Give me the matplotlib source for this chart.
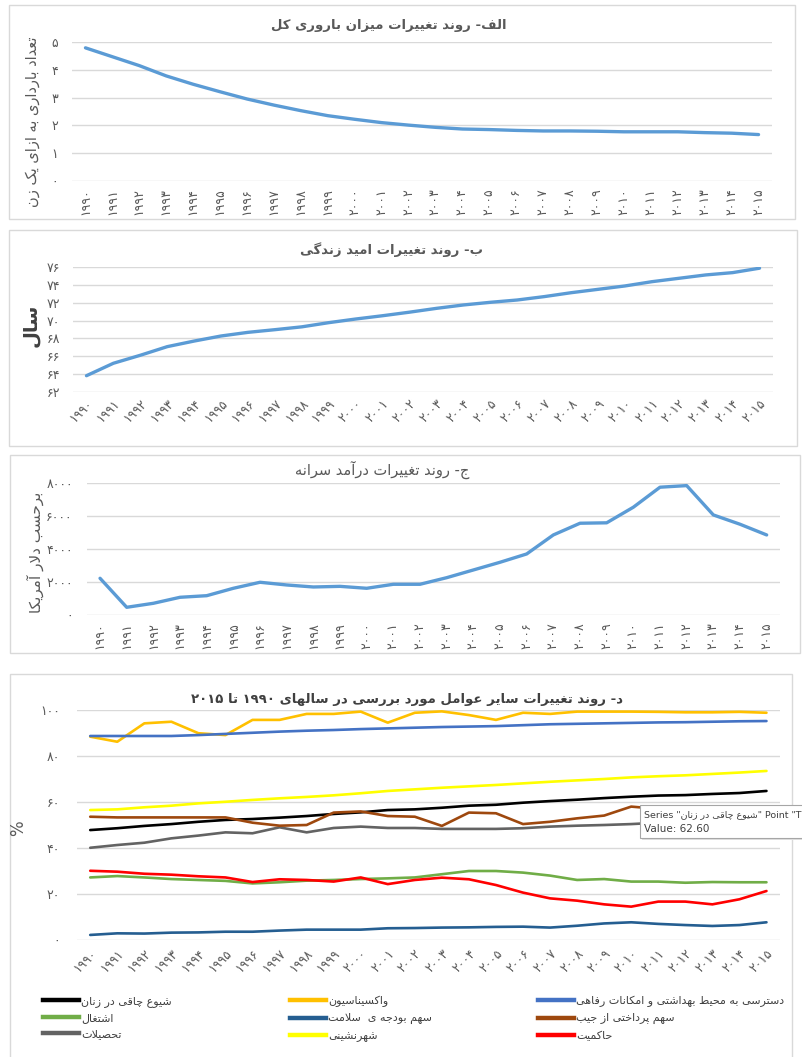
import re

import matplotlib
import numpy as np

matplotlib.use("Agg")
import matplotlib.pyplot as plt  # noqa: E402
from matplotlib.lines import Line2D  # noqa: E402
from matplotlib.patches import Rectangle  # noqa: E402

plt.rcParams["font.family"] = ["DejaVu Sans"]

W, H = 803, 1057

YEARS = list(range(1990, 2016))

# panel A: total fertility rate
fertility = [4.79, 4.47, 4.15, 3.78, 3.48, 3.21, 2.95, 2.73, 2.53, 2.35, 2.22,
             2.10, 2.01, 1.93, 1.87, 1.85, 1.82, 1.80, 1.80, 1.79, 1.77, 1.77,
             1.77, 1.74, 1.72, 1.67]

# panel B: life expectancy
life_exp = [63.8, 65.2, 66.1, 67.07, 67.7, 68.27, 68.68, 68.98, 69.3, 69.77,
            70.18, 70.55, 70.95, 71.38, 71.76, 72.06, 72.32, 72.7, 73.14,
            73.52, 73.9, 74.38, 74.76, 75.14, 75.4, 75.9]

# panel C: GDP per capita (USD)
income = [2231, 468, 711, 1076, 1173, 1623, 1988, 1824, 1702, 1740, 1623,
          1866, 1866, 2267, 2735, 3203, 3708, 4863, 5574, 5600, 6547, 7763,
          7860, 6079, 5513, 4863]

# panel D: other factors (%)
obesity = [47.8, 48.6, 49.6, 50.4, 51.4, 52.2, 52.6, 53.2, 53.9, 54.8, 55.5,
           56.5, 56.8, 57.5, 58.4, 58.8, 59.7, 60.4, 61.0, 61.7, 62.3, 62.8,
           63.0, 63.5, 63.9, 64.8]
vaccination = [88.4, 86.2, 94.2, 94.9, 89.9, 89.1, 95.7, 95.7, 98.3, 98.3, 99.3,
               94.5, 98.8, 99.4, 97.8, 95.7, 98.8, 98.3, 99.3, 99.3, 99.3, 99.2,
               99.0, 99.0, 99.2, 98.8]
sanitation = [88.7, 88.7, 88.7, 88.7, 89.1, 89.6, 90.1, 90.6, 91.0, 91.3, 91.7,
              92.0, 92.3, 92.6, 92.8, 93.0, 93.4, 93.8, 94.0, 94.2, 94.4, 94.6,
              94.7, 94.9, 95.1, 95.2]
employment = [27.2, 27.8, 27.2, 26.5, 26.1, 25.7, 24.6, 25.1, 25.8, 26.1, 26.5,
              26.8, 27.2, 28.6, 30.0, 30.0, 29.3, 28.0, 26.1, 26.5, 25.4, 25.4,
              24.9, 25.2, 25.1, 25.1]
health_budget = [2.2, 2.9, 2.8, 3.2, 3.3, 3.6, 3.6, 4.1, 4.5, 4.5, 4.5, 5.1,
                 5.2, 5.4, 5.5, 5.7, 5.8, 5.4, 6.2, 7.2, 7.7, 7.0, 6.5, 6.1,
                 6.5, 7.7]
out_of_pocket = [53.6, 53.3, 53.3, 53.3, 53.3, 53.3, 51.0, 49.7, 50.0, 55.4,
                 55.9, 53.9, 53.6, 49.6, 55.4, 55.1, 50.4, 51.4, 52.9, 54.1,
                 58.0, 57.0, 56.0, 56.5, 57.0, 57.5]
education = [40.1, 41.3, 42.3, 44.2, 45.4, 46.8, 46.4, 49.0, 46.8, 48.7, 49.3,
             48.7, 48.7, 48.3, 48.3, 48.3, 48.6, 49.3, 49.7, 50.0, 50.4, 51.0,
             51.5, 52.0, 52.0, 52.5]
urbanization = [56.5, 56.8, 57.7, 58.4, 59.4, 60.1, 60.9, 61.6, 62.2, 62.9, 63.8,
                64.8, 65.5, 66.2, 66.8, 67.4, 68.1, 68.8, 69.4, 70.0, 70.7, 71.2,
                71.6, 72.2, 72.8, 73.5]
governance = [30.1, 29.7, 28.8, 28.4, 27.7, 27.2, 25.2, 26.4, 26.1, 25.4, 27.2,
              24.3, 26.1, 27.1, 26.4, 23.9, 20.6, 18.1, 17.1, 15.5, 14.5, 16.7,
              16.7, 15.5, 17.7, 21.3]

# legend columns, top to bottom
D_SERIES = [
    ("شیوع چاقی در زنان", obesity, "#000000"),
    ("اشتغال", employment, "#70AD47"),
    ("تحصیلات", education, "#636363"),
    ("واکسیناسیون", vaccination, "#FFC000"),
    ("سهم بودجه ی  سلامت", health_budget, "#255E91"),
    ("شهرنشینی", urbanization, "#FFFF00"),
    ("دسترسی به محیط بهداشتی و امکانات رفاهی", sanitation, "#4472C4"),
    ("سهم پرداختی از جیب", out_of_pocket, "#9E480E"),
    ("حاکمیت", governance, "#FF0000"),
]

# --- minimal Persian shaping (matplotlib has no text shaping) -------------
def _dual(b):
    return (b, b + 1, b + 2, b + 3)


def _right(b):
    return (b, b + 1, None, None)


FORMS = {
    "ا": _right(0xFE8D), "آ": _right(0xFE81), "د": _right(0xFEA9),
    "ذ": _right(0xFEAB), "ر": _right(0xFEAD), "ز": _right(0xFEAF),
    "ژ": _right(0xFB8A), "و": _right(0xFEED),
    "ب": _dual(0xFE8F), "پ": _dual(0xFB56), "ت": _dual(0xFE95),
    "ث": _dual(0xFE99), "ج": _dual(0xFE9D), "چ": _dual(0xFB7A),
    "ح": _dual(0xFEA1), "خ": _dual(0xFEA5), "س": _dual(0xFEB1),
    "ش": _dual(0xFEB5), "ص": _dual(0xFEB9), "ض": _dual(0xFEBD),
    "ط": _dual(0xFEC1), "ظ": _dual(0xFEC5), "ع": _dual(0xFEC9),
    "غ": _dual(0xFECD), "ف": _dual(0xFED1), "ق": _dual(0xFED5),
    "ک": _dual(0xFB8E), "ك": _dual(0xFB8E), "گ": _dual(0xFB92),
    "ل": _dual(0xFEDD), "م": _dual(0xFEE1), "ن": _dual(0xFEE5),
    "ه": _dual(0xFEE9), "ی": _dual(0xFBFC), "ي": _dual(0xFBFC),
}
LAM_ALEF = {"ا": (0xFEFB, 0xFEFC), "آ": (0xFEF5, 0xFEF6)}


def _dual_joining(c):
    return c in FORMS and FORMS[c][2] is not None


def shape(s):
    out = []
    i = 0
    while i < len(s):
        c = s[i]
        if c not in FORMS:
            out.append(c)
            i += 1
            continue
        prev = s[i - 1] if i > 0 else ""
        join_prev = _dual_joining(prev)
        if c == "ل" and i + 1 < len(s) and s[i + 1] in LAM_ALEF:
            iso, fin = LAM_ALEF[s[i + 1]]
            out.append(chr(fin if join_prev else iso))
            i += 2
            continue
        nxt = s[i + 1] if i + 1 < len(s) else ""
        join_next = _dual_joining(c) and nxt in FORMS
        iso, fin, ini, med = FORMS[c]
        if join_prev and join_next:
            out.append(chr(med))
        elif join_prev:
            out.append(chr(fin))
        elif join_next:
            out.append(chr(ini))
        else:
            out.append(chr(iso))
        i += 1
    return "".join(out)


def fa(s):
    """Shape and reorder right-to-left text for display, digit runs kept LTR."""
    tokens = re.findall(r"[0-9\u06F0-\u06F9]+|.", shape(s))
    return "".join(reversed(tokens))


FA_DIGITS = str.maketrans("0123456789", "۰۱۲۳۴۵۶۷۸۹")


def fa_num(v):
    return str(v).translate(FA_DIGITS)


# --- layout helpers --------------------------------------------------------
def rect(x0, y0, x1, y1):
    return [x0 / W, 1 - y1 / H, (x1 - x0) / W, (y1 - y0) / H]


def ftext(fig, x, y, s, **kw):
    fig.text(x / W, 1 - y / H, s, ha="center", va="center", **kw)


GRID = "#D9D9D9"
TICK = "#595959"
BLUE = "#5B9BD5"

fig = plt.figure(figsize=(W / 100, H / 100), dpi=100)
fig.patch.set_facecolor("white")

# panel frames
for x0, y0, x1, y1 in [(9, 5, 795, 219), (9, 230, 797, 446),
                       (10, 455, 800, 653), (10, 674, 792, 1060)]:
    fig.add_artist(Rectangle((x0 / W, 1 - y1 / H), (x1 - x0) / W, (y1 - y0) / H,
                             transform=fig.transFigure, fill=False,
                             edgecolor=GRID, linewidth=1.0))


def base_axis(box, ylim, yticks, ypad, xrot, xpad, xsize=9):
    ax = fig.add_axes(rect(*box))
    x = np.arange(len(YEARS))
    ax.set_xlim(-0.5, len(YEARS) - 0.5)
    ax.set_ylim(*ylim)
    ax.set_yticks(yticks)
    ax.set_yticklabels([fa_num(v) for v in yticks], color=TICK, fontsize=9)
    ax.set_xticks(x)
    if xrot == 90:
        ax.set_xticklabels([fa_num(y) for y in YEARS], rotation=90,
                           color=TICK, fontsize=xsize, va="top", ha="center")
    else:
        ax.set_xticklabels([fa_num(y) for y in YEARS], rotation=45,
                           color=TICK, fontsize=xsize, ha="right",
                           va="top", rotation_mode="anchor")
    ax.tick_params(length=0)
    ax.tick_params(axis="y", pad=ypad)
    ax.tick_params(axis="x", pad=xpad)
    for sp in ax.spines.values():
        sp.set_visible(False)
    ax.grid(axis="y", color=GRID, linewidth=1.0)
    ax.set_axisbelow(True)
    return ax, x


# A: fertility
ax, x = base_axis((72, 42, 772, 181), (0, 5), [0, 1, 2, 3, 4, 5], 10, 90, 5)
ax.plot(x, fertility, color=BLUE, linewidth=2.4, solid_capstyle="round")
ftext(fig, 389, 25, fa("الف- روند تغییرات میزان باروری کل"),
      fontsize=9.5, fontweight="bold", color=TICK)
ftext(fig, 33, 122, fa("تعداد بارداری به ازای یک زن"), rotation=90,
      fontsize=10.5, color=TICK)

# B: life expectancy
ax, x = base_axis((73, 267.3, 773, 391.7), (62, 76), list(range(62, 77, 2)),
                  9, 45, 4)
ax.plot(x, life_exp, color=BLUE, linewidth=2.4, solid_capstyle="round")
ftext(fig, 392, 250, fa("ب- روند تغییرات امید زندگی"),
      fontsize=9.5, fontweight="bold", color=TICK)
ftext(fig, 30, 325, fa("سال"), rotation=90, fontsize=14, fontweight="bold",
      color="#404040")

# C: income per capita
ax, x = base_axis((86.7, 483.3, 780, 615), (0, 8000), [0, 2000, 4000, 6000, 8000],
                  10, 90, 5)
ax.plot(x, income, color=BLUE, linewidth=2.4, solid_capstyle="round")
ftext(fig, 382, 470, fa("ج- روند تغییرات درآمد سرانه"), fontsize=10.5,
      color=TICK)
ftext(fig, 35, 552, fa("برحسب دلار آمریکا"), rotation=90, fontsize=11,
      color=TICK)

# D: other factors
ax, x = base_axis((76.7, 710, 780, 940), (0, 100), [0, 20, 40, 60, 80, 100],
                  12, 45, 5)
for label, vals, color in D_SERIES:
    ax.plot(x, vals, color=color, linewidth=1.9, solid_capstyle="round")
ftext(fig, 407, 700, fa("د- روند تغییرات سایر عوامل مورد بررسی در سالهای ۱۹۹۰ تا ۲۰۱۵"),
      fontsize=9.5, fontweight="bold", color="#404040")
ftext(fig, 18, 828, "%", rotation=90, fontsize=12, color=TICK)

# legend: three columns placed like the original
col_x = [43, 290, 538]
for col in range(3):
    items = D_SERIES[col * 3:(col + 1) * 3]
    handles = [Line2D([], [], color=c, linewidth=3.2) for _, _, c in items]
    fig.legend(handles, [fa(lbl) for lbl, _, _ in items], loc="upper left",
               bbox_to_anchor=(col_x[col] / W, 1 - 996 / H), frameon=False,
               fontsize=8, handlelength=3.2, handletextpad=0.2,
               labelspacing=0.55, borderpad=0, borderaxespad=0,
               labelcolor="#404040")

# hover tooltip captured in the screenshot
fig.add_artist(Rectangle((642 / W, 1 - 840 / H), 170 / W, 33 / H,
                         transform=fig.transFigure, facecolor="#E0E0E0",
                         edgecolor="none", zorder=9))
fig.add_artist(Rectangle((640 / W, 1 - 838 / H), 170 / W, 33 / H,
                         transform=fig.transFigure, facecolor="white",
                         edgecolor="#A6A6A6", linewidth=0.8, zorder=10))
fig.text(644 / W, 1 - 815 / H,
         'Series "' + fa("شیوع چاقی در زنان") + '" Point "T',
         fontsize=6.8, color="#404040", va="center", ha="left", zorder=11)
fig.text(644 / W, 1 - 829 / H, "Value: 62.60", fontsize=7.5, color="#404040",
         va="center", ha="left", zorder=11)

fig.savefig("out.png", dpi=100)
